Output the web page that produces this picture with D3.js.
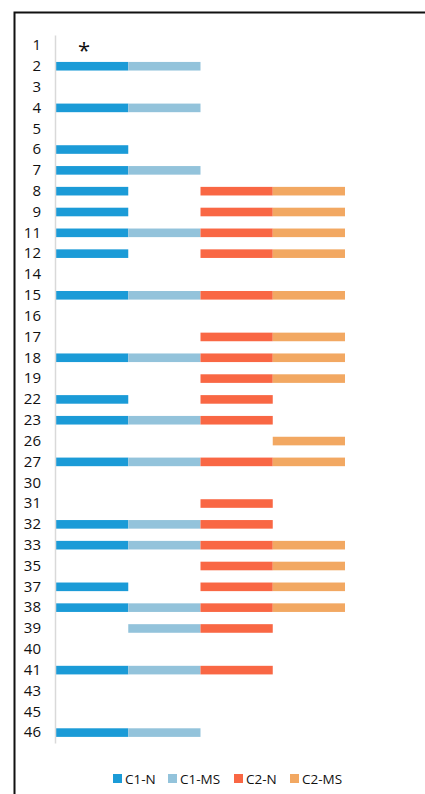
<!DOCTYPE html>
<html>
<head>
<meta charset="utf-8">
<script src="https://cdn.jsdelivr.net/npm/d3@7"></script>
<style>
  body { margin: 0; background: #fff; }
  svg { display: block; font-family: "Open Sans", sans-serif; }
</style>
</head>
<body>
<svg id="chart" width="425" height="794"></svg>
<script>
// row labels, top to bottom
var categories = ['1','2','3','4','5','6','7','8','9','11','12','14','15','16','17','18','19',
  '22','23','26','27','30','31','32','33','35','37','38','39','40','41','43','45','46'];

// presence of each segment per row (1 = drawn)
var c1N  = [0,1,0,1,0,1,1,1,1,1,1,0,1,0,0,1,0,1,1,0,1,0,0,1,1,0,1,1,0,0,1,0,0,1];
var c1MS = [0,1,0,1,0,0,1,0,0,1,0,0,1,0,0,1,0,0,1,0,1,0,0,1,1,0,0,1,1,0,1,0,0,1];
var c2N  = [0,0,0,0,0,0,0,1,1,1,1,0,1,0,1,1,1,1,1,0,1,0,1,1,1,1,1,1,1,0,1,0,0,0];
var c2MS = [0,0,0,0,0,0,0,1,1,1,1,0,1,0,1,1,1,0,0,1,1,0,0,0,1,1,1,1,0,0,0,0,0,0];

var seriesNames = ['C1-N', 'C1-MS', 'C2-N', 'C2-MS'];
var seriesValues = [c1N, c1MS, c2N, c2MS];
var colors = ['#1b9bd7', '#93c3db', '#f96744', '#f2a862'];
var marked = ['1']; // rows with an asterisk

var svg = d3.select('#chart');

// outer frame
svg.append('rect')
  .attr('x', 14.5).attr('y', 12.5)
  .attr('width', 500).attr('height', 900)
  .attr('fill', 'none').attr('stroke', '#111').attr('stroke-width', 2);

var y = d3.scaleBand().domain(categories).range([35, 743]);
var x = d3.scaleLinear().domain([0, 4]).range([56, 345]);

var g = svg.append('g');

seriesValues.forEach(function(vals, si) {
  g.selectAll('.s' + si)
    .data(categories.filter(function(c, i) { return vals[i]; }))
    .enter().append('rect')
    .attr('class', 's' + si)
    .attr('x', x(si))
    .attr('width', x(si + 1) - x(si))
    .attr('y', function(d) { return y(d) + y.bandwidth() / 2 - 4.3; })
    .attr('height', 8.6)
    .attr('fill', colors[si]);
});

// category axis
var axis = d3.axisLeft(y).tickSize(0).tickPadding(14);
var ag = svg.append('g').attr('transform', 'translate(55,0)').call(axis);
ag.select('.domain').attr('stroke', '#d9d9d9').attr('stroke-width', 1.5);
ag.selectAll('text').attr('font-size', 15).attr('fill', '#111')
  .attr('font-family', '"Open Sans", sans-serif');

g.selectAll('.star')
  .data(marked)
  .enter().append('text')
  .attr('x', 84)
  .attr('y', function(d) { return y(d) + y.bandwidth() / 2 + 13; })
  .attr('text-anchor', 'middle')
  .attr('font-size', 22)
  .attr('fill', '#111')
  .text('*');

// legend
var legendX = [113, 168, 234, 290];
var lg = svg.append('g');
seriesNames.forEach(function(name, i) {
  lg.append('rect')
    .attr('x', legendX[i]).attr('y', 774)
    .attr('width', 9).attr('height', 9)
    .attr('fill', colors[i]);
  lg.append('text')
    .attr('x', legendX[i] + 12).attr('y', 783.5)
    .attr('font-size', 13.5).attr('fill', '#111')
    .text(name);
});
</script>
</body>
</html>
